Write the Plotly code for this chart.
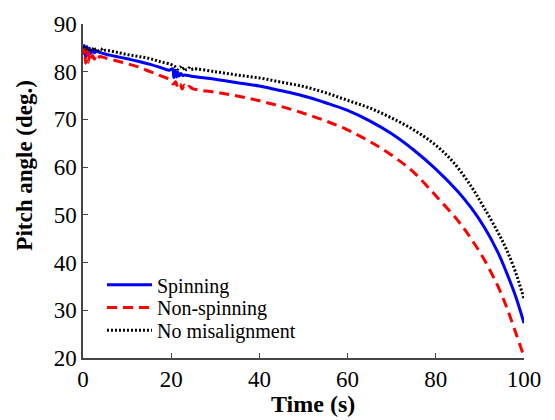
import plotly.graph_objects as go

# Spinning
t_spin = [0, 0.3, 0.6, 0.9, 1.2, 1.5, 1.8, 2.2, 2.6, 3, 4, 5, 7.5, 10, 12.5, 15, 17.5, 19.5,
          20.3, 20.6, 20.9, 21.2, 21.5, 21.8, 22.2, 22.6, 23, 25, 30, 35, 40, 45, 50, 55, 60,
          65, 70, 75, 80, 85, 88, 91, 94, 96, 98, 100]
v_spin = [84.8, 85.5, 83.0, 85.3, 83.4, 84.9, 83.8, 84.6, 84.0, 84.3, 84.0, 83.7, 83.2, 82.7,
          82.2, 81.6, 80.9, 80.3, 80.6, 78.8, 80.3, 78.9, 79.9, 79.1, 79.6, 79.2, 79.3, 79.0,
          78.4, 77.7, 77.0, 76.0, 74.9, 73.5, 71.9, 69.7, 67.0, 63.6, 59.6, 54.9, 51.5, 47.4,
          42.3, 38.0, 33.2, 27.3]

# Non-spinning
t_non = [0, 0.3, 0.6, 0.9, 1.2, 1.5, 1.8, 2.2, 2.6, 3.0, 3.4, 3.8, 5, 7.5, 10, 12.5, 15, 17.5,
         19.5, 20.5, 21, 21.5, 22, 22.5, 23, 23.5, 24, 25, 30, 35, 40, 45, 50, 55, 60, 65, 70,
         75, 80, 85, 88, 91, 94, 96, 98, 100]
v_non = [83.5, 85.0, 81.8, 84.6, 82.0, 83.8, 82.6, 83.4, 82.6, 83.4, 82.8, 83.2, 82.9, 82.3,
         81.7, 81.0, 80.1, 79.2, 78.4, 77.4, 77.9, 76.6, 77.4, 76.4, 77.2, 76.5, 76.9, 76.4,
         75.7, 74.9, 73.9, 72.7, 71.3, 69.7, 67.8, 65.4, 62.5, 58.9, 54.0, 48.8, 45.0, 40.6,
         35.2, 30.8, 25.6, 20.3]

# No misalignment
t_nom = [0, 0.5, 1, 1.5, 2, 2.5, 3, 3.5, 4, 4.5, 5, 7.5, 10, 12.5, 15, 17.5, 20, 21, 21.5,
         22, 22.5, 23, 23.5, 24, 24.5, 25, 30, 35, 40, 45, 50, 55, 60, 65, 70, 75, 80, 84, 88,
         91, 94, 96, 98, 100]
v_nom = [85.3, 84.7, 85.0, 84.6, 84.9, 84.4, 84.9, 84.5, 84.8, 84.4, 84.5, 84.1, 83.6, 83.2,
         82.8, 82.1, 81.5, 81.0, 80.5, 81.0, 80.5, 80.9, 80.4, 80.8, 80.4, 80.6, 80.0, 79.3,
         78.7, 77.8, 76.9, 75.6, 74.0, 72.4, 70.3, 67.8, 64.6, 61.0, 56.0, 51.4, 46.5, 42.8,
         38.2, 32.4]

x_ticks = [0, 20, 40, 60, 80, 100]
y_ticks = [20, 30, 40, 50, 60, 70, 80, 90]

FONT = "Liberation Serif"

fig = go.Figure()
fig.add_trace(go.Scatter(x=t_spin, y=v_spin, mode="lines", name="Spinning", legend="legend",
                         line=dict(color="#0000ff", width=3, shape="spline", smoothing=1)))
fig.add_trace(go.Scatter(x=t_non, y=v_non, mode="lines", name="Non-spinning", legend="legend2",
                         line=dict(color="#ff0000", width=3, dash="10px,6px",
                                   shape="spline", smoothing=1)))
fig.add_trace(go.Scatter(x=t_nom, y=v_nom, mode="lines", name="No misalignment", legend="legend3",
                         line=dict(color="#000000", width=3, dash="2px,2px",
                                   shape="spline", smoothing=1)))

axis_common = dict(showline=True, linecolor="#444444", linewidth=1.5, ticks="inside",
                   ticklen=5, tickcolor="#444444", showgrid=False, zeroline=False,
                   tickfont=dict(family=FONT, size=23, color="black"), mirror=False)

leg_common = dict(x=0.043, xanchor="left", yanchor="middle", bgcolor="rgba(0,0,0,0)",
                  font=dict(family=FONT, size=20, color="black"), itemwidth=45)

fig.update_layout(
    width=555, height=420,
    margin=dict(l=83, r=31, t=20, b=62),
    paper_bgcolor="white", plot_bgcolor="white",
    font=dict(family=FONT, color="black"),
    xaxis=dict(range=[0, 100], tickvals=x_ticks, **axis_common),
    yaxis=dict(range=[20, 90], tickvals=y_ticks, **axis_common),
    legend=dict(y=0.219, **leg_common),
    legend2=dict(y=0.151, **leg_common),
    legend3=dict(y=0.083, **leg_common),
    showlegend=True,
    annotations=[
        dict(text="<b>Pitch angle (deg.)</b>", xref="paper", yref="paper", x=-0.133, y=0.577,
             xanchor="center", yanchor="middle", textangle=-90, showarrow=False,
             font=dict(family=FONT, size=23, color="black")),
        dict(text="<b>Time (s)</b>", xref="paper", yref="paper", x=0.5215, y=-0.139,
             xanchor="center", yanchor="middle", showarrow=False,
             font=dict(family=FONT, size=24, color="black")),
    ],
)

fig.write_html("out.html")
